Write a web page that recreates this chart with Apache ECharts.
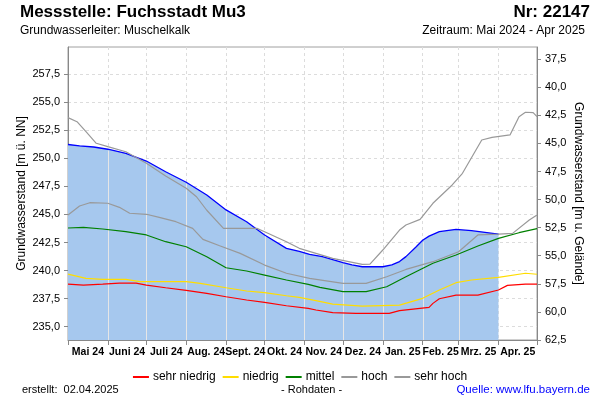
<!DOCTYPE html>
<html>
<head>
<meta charset="utf-8">
<script src="https://cdn.jsdelivr.net/npm/echarts@6/dist/echarts.min.js"></script>
<style>
html,body{margin:0;padding:0;background:#fff;}
#chart{width:600px;height:400px;}
</style>
</head>
<body>
<div id="chart"></div>
<script>
// ---- Data ----
const monthStarts = ['2024-05-01','2024-06-01','2024-07-01','2024-08-01','2024-09-01','2024-10-01','2024-11-01','2024-12-01','2025-01-01','2025-02-01','2025-03-01','2025-04-01','2025-05-01'];
const monthLabels = ['Mai 24','Juni 24','Juli 24','Aug. 24','Sept. 24','Okt. 24','Nov. 24','Dez. 24','Jan. 25','Feb. 25','Mrz. 25','Apr. 25'];
const leftTicks = [235, 237.5, 240, 242.5, 245, 247.5, 250, 252.5, 255, 257.5];
const rightTicks = [37.5, 40, 42.5, 45, 47.5, 50, 52.5, 55, 57.5, 60, 62.5];

const rohDates = ['2024-05-01','2024-05-10','2024-05-21','2024-06-01','2024-06-15','2024-07-01','2024-07-16','2024-08-01','2024-08-17','2024-09-01','2024-09-17','2024-10-01','2024-10-18','2024-10-28','2024-11-05','2024-11-15','2024-12-01','2024-12-08','2024-12-16','2025-01-01','2025-01-08','2025-01-14','2025-01-19','2025-01-27','2025-02-01','2025-02-06','2025-02-14','2025-02-27','2025-03-11','2025-03-20','2025-04-01'];
const rohValues = [251.22,251.1,251.0,250.8,250.44,249.75,248.8,247.86,246.73,245.4,244.35,243.17,241.98,241.7,241.45,241.24,240.7,240.5,240.34,240.34,240.5,240.8,241.24,242.12,242.7,243.07,243.46,243.67,243.55,243.43,243.25];

const sehrNiedrigDates = ['2024-05-01','2024-05-13','2024-05-28','2024-06-10','2024-06-23','2024-07-01','2024-07-16','2024-08-01','2024-08-17','2024-09-01','2024-09-17','2024-10-01','2024-10-18','2024-11-04','2024-11-10','2024-11-23','2024-12-11','2025-01-06','2025-01-14','2025-02-06','2025-02-09','2025-02-14','2025-02-27','2025-03-16','2025-04-01','2025-04-08','2025-04-22','2025-05-01'];
const sehrNiedrigValues = [238.8,238.71,238.8,238.89,238.89,238.71,238.47,238.24,237.97,237.67,237.38,237.17,236.87,236.64,236.49,236.25,236.19,236.19,236.43,236.73,237.08,237.49,237.82,237.82,238.27,238.68,238.8,238.8];

const niedrigDates = ['2024-05-01','2024-05-15','2024-05-28','2024-06-15','2024-06-26','2024-07-11','2024-08-01','2024-08-12','2024-09-01','2024-09-17','2024-10-01','2024-10-18','2024-10-28','2024-11-10','2024-11-23','2024-12-16','2025-01-14','2025-02-01','2025-02-14','2025-02-27','2025-03-11','2025-04-01','2025-04-22','2025-05-01'];
const niedrigValues = [239.69,239.31,239.22,239.22,239.01,239.01,239.01,238.86,238.47,238.18,238.03,237.76,237.62,237.32,237.02,236.84,236.93,237.53,238.27,238.92,239.16,239.4,239.76,239.67];

const mittelDates = ['2024-05-01','2024-05-13','2024-05-28','2024-06-15','2024-07-01','2024-07-16','2024-08-01','2024-08-17','2024-09-01','2024-09-17','2024-10-01','2024-10-18','2024-11-04','2024-11-13','2024-12-01','2024-12-19','2025-01-04','2025-01-19','2025-02-09','2025-02-27','2025-03-16','2025-04-01','2025-04-17','2025-05-01'];
const mittelValues = [243.79,243.85,243.7,243.46,243.17,242.57,242.12,241.23,240.25,239.96,239.6,239.16,238.77,238.51,238.12,238.12,238.56,239.45,240.65,241.39,242.19,242.87,243.37,243.73];

const hochDates = ['2024-05-01','2024-05-10','2024-05-18','2024-06-01','2024-06-10','2024-06-18','2024-07-01','2024-07-11','2024-07-24','2024-08-06','2024-08-14','2024-08-27','2024-09-12','2024-10-01','2024-10-18','2024-11-05','2024-12-01','2024-12-19','2025-01-04','2025-01-19','2025-02-09','2025-03-01','2025-03-16','2025-04-01','2025-04-12','2025-04-25','2025-05-01'];
const hochValues = [244.95,245.75,246.04,245.99,245.63,245.1,245.01,244.74,244.35,243.76,242.78,242.21,241.53,240.49,239.76,239.3,238.86,238.86,239.45,240.1,240.79,241.68,243.17,243.25,243.31,244.5,244.95];

const sehrHochDates = ['2024-05-01','2024-05-08','2024-05-15','2024-05-23','2024-06-01','2024-06-15','2024-07-01','2024-07-16','2024-08-01','2024-08-09','2024-08-17','2024-08-30','2024-09-25','2024-10-01','2024-10-18','2024-10-28','2024-11-23','2024-12-16','2024-12-22','2025-01-01','2025-01-14','2025-01-19','2025-01-30','2025-02-09','2025-02-24','2025-03-04','2025-03-19','2025-03-27','2025-04-10','2025-04-17','2025-04-22','2025-04-28','2025-05-01'];
const sehrHochValues = [253.61,253.25,252.36,251.33,251.03,250.58,249.55,248.42,247.32,246.57,245.37,243.76,243.76,243.46,242.57,241.98,241.09,240.55,240.58,241.83,243.61,244.06,244.56,245.99,247.62,248.66,251.62,251.86,252.07,253.7,254.09,254.06,253.7];

// ---- helpers ----
function ts(s){ const p = s.split('-').map(Number); return Date.UTC(p[0], p[1]-1, p[2]); }
function pairs(d, v){ return d.map((s,i)=>[ts(s), v[i]]); }
const monthTs = monthStarts.map(ts);
const labelTs = monthLabels.map((_,i)=>(monthTs[i]+monthTs[i+1])/2);
const rohData = pairs(rohDates, rohValues);
const Y_MIN = 233.82, Y_MAX = 259.9, GROUND = 296.32;

function rohAt(t){
  for (let i=0;i<rohData.length-1;i++){
    const a=rohData[i], b=rohData[i+1];
    if (t>=a[0] && t<=b[0]) return a[1]+(b[1]-a[1])*(t-a[0])/(b[0]-a[0]);
  }
  return null;
}
const monthLineData = monthTs.slice(1, 11).map(t=>[t, rohAt(t)]);

const fmt = v => v.toFixed(1).replace('.', ',');
const FONT = 'Liberation Sans, Arial, sans-serif';

const chart = echarts.init(document.getElementById('chart'), null, {renderer:'canvas'});
const lineStyle = (c)=>({color:c, width:1.2});
chart.setOption({
  animation:false,
  textStyle:{fontFamily:FONT},
  grid:{left:68, right:63, top:47, bottom:60, show:true, borderColor:'#a0a0a0', borderWidth:1},
  legend:{
    left:'center', top:366, icon:'rect', itemWidth:16, itemHeight:2, itemGap:7,
    textStyle:{fontSize:12, color:'#000', fontFamily:FONT, padding:[0,0,0,-1]},
    data:['sehr niedrig','niedrig','mittel','hoch','sehr hoch']
  },
  xAxis:{
    type:'value', min:monthTs[0], max:monthTs[12],
    axisLine:{lineStyle:{color:'#888'}},
    axisTick:{customValues:monthTs, length:5, lineStyle:{color:'#888'}},
    axisLabel:{customValues:labelTs, margin:7, fontSize:10.5, fontWeight:'bold', color:'#000', fontFamily:FONT,
      formatter:(v)=>{ let best=0; labelTs.forEach((t,i)=>{ if(Math.abs(t-v)<Math.abs(labelTs[best]-v)) best=i; }); return monthLabels[best]; }},
    splitLine:{show:true, lineStyle:{color:'#dcdcdc', type:[3,3]}}
  },
  yAxis:[{
    type:'value', min:Y_MIN, max:Y_MAX, position:'left',
    name:'Grundwasserstand [m ü. NN]', nameLocation:'middle', nameGap:40, nameRotate:90, nameMoveOverlap:false,
    nameTextStyle:{fontSize:12, color:'#000', fontFamily:FONT},
    axisLine:{show:true, lineStyle:{color:'#888'}},
    axisTick:{show:true, customValues:leftTicks, length:4, lineStyle:{color:'#888'}},
    axisLabel:{customValues:leftTicks, formatter:fmt, fontSize:11, color:'#000', margin:8, fontFamily:FONT},
    splitLine:{show:true, lineStyle:{color:'#dcdcdc', type:[3,3]}}
  },{
    type:'value', min:GROUND - Y_MAX, max:GROUND - Y_MIN, inverse:true, position:'right',
    name:'Grundwasserstand [m u. Gelände]', nameLocation:'middle', nameGap:35, nameRotate:-90, nameMoveOverlap:false,
    nameTextStyle:{fontSize:12, color:'#000', fontFamily:FONT},
    axisLine:{show:true, lineStyle:{color:'#888'}},
    axisTick:{show:true, customValues:rightTicks, length:4, lineStyle:{color:'#888'}},
    axisLabel:{customValues:rightTicks, formatter:fmt, fontSize:11, color:'#000', margin:8, fontFamily:FONT},
    splitLine:{show:false}
  }],
  series:[
    {name:'Rohdaten', type:'line', data:rohData, showSymbol:false, symbol:'none',
     lineStyle:{color:'#0000ff', width:1.3}, itemStyle:{color:'#0000ff'},
     areaStyle:{color:'#a6c8ee', opacity:1, origin:'start'}, z:2},
    {name:'monthlines', type:'custom', data:monthLineData, z:3, silent:true,
     renderItem:(params, api)=>{
       const x = api.value(0);
       const p0 = api.coord([x, Y_MIN]);
       const p1 = api.coord([x, api.value(1)]);
       const xx = Math.round(p0[0]) + 0.5;
       return {type:'line', shape:{x1:xx, y1:p0[1], x2:xx, y2:p1[1]+1.5}, style:{stroke:'#e6e6e6', lineWidth:1}};
     }},
    {name:'sehr niedrig', type:'line', data:pairs(sehrNiedrigDates, sehrNiedrigValues), symbol:'none', lineStyle:lineStyle('#ff0000'), itemStyle:{color:'#ff0000'}, z:4},
    {name:'niedrig', type:'line', data:pairs(niedrigDates, niedrigValues), symbol:'none', lineStyle:lineStyle('#ffdd00'), itemStyle:{color:'#ffdd00'}, z:4},
    {name:'mittel', type:'line', data:pairs(mittelDates, mittelValues), symbol:'none', lineStyle:lineStyle('#008000'), itemStyle:{color:'#008000'}, z:4},
    {name:'hoch', type:'line', data:pairs(hochDates, hochValues), symbol:'none', lineStyle:lineStyle('#999999'), itemStyle:{color:'#999999'}, z:4},
    {name:'sehr hoch', type:'line', data:pairs(sehrHochDates, sehrHochValues), symbol:'none', lineStyle:lineStyle('#999999'), itemStyle:{color:'#999999'}, z:4}
  ],
  graphic:[
    {type:'text', left:20, top:4, style:{text:'Messstelle: Fuchsstadt Mu3', font:'bold 17px '+FONT, fill:'#000'}},
    {type:'text', right:10, top:4, style:{text:'Nr: 22147', font:'bold 17px '+FONT, fill:'#000'}},
    {type:'text', left:20, top:25, style:{text:'Grundwasserleiter: Muschelkalk', font:'12px '+FONT, fill:'#000'}},
    {type:'text', right:15, top:25, style:{text:'Zeitraum: Mai 2024 - Apr 2025', font:'12px '+FONT, fill:'#000'}},
    {type:'text', left:22, top:384, style:{text:'erstellt:  02.04.2025', font:'11px '+FONT, fill:'#000'}},
    {type:'text', left:281, top:384, style:{text:'- Rohdaten -', font:'11px '+FONT, fill:'#000'}},
    {type:'text', right:10, top:384, style:{text:'Quelle: www.lfu.bayern.de', font:'11.5px '+FONT, fill:'#0000ff'}}
  ]
});
</script>
</body>
</html>
